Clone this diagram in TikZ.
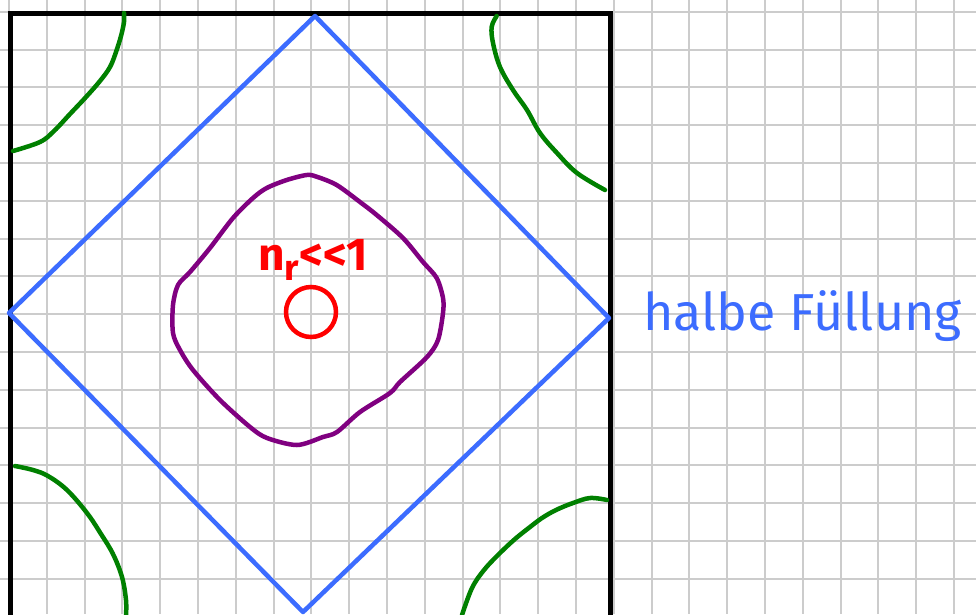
\documentclass[tikz,border=0pt]{standalone}
\usepackage{fontspec}
\newfontfamily\handfont{Fira Sans}
\definecolor{gridgray}{RGB}{204,204,204}
\definecolor{penblue}{RGB}{60,108,255}
\definecolor{pengreen}{RGB}{0,128,0}
\definecolor{penpurple}{RGB}{128,0,128}
\definecolor{penred}{RGB}{255,0,0}
\tikzset{
  gridline/.style={draw=gridgray, line width=2},
  frameline/.style={draw=black, line width=5, line cap=butt, line join=miter},
  bluepen/.style={draw=penblue, line width=4.5, line cap=round, line join=round},
  greenpen/.style={draw=pengreen, line width=4.5, line cap=round, line join=round},
  purplepen/.style={draw=penpurple, line width=4.5, line cap=round, line join=round},
  redpen/.style={draw=penred, line width=4.5},
}
\begin{document}
\begin{tikzpicture}[x=1pt,y=-1pt]
\useasboundingbox (0,0) rectangle (976,614);
\fill[white] (0,0) rectangle (976,614);
\begin{scope}
\clip (0,0) rectangle (976,614);
\foreach \i in {0,...,25} \draw[gridline] ({8.9+37.8*\i},0) -- ({8.9+37.8*\i},614);
\foreach \j in {0,...,15} \draw[gridline] (0,{11.7+37.8*\j}) -- (976,{11.7+37.8*\j});
% frame
\coordinate (fbl) at (10,620);
\coordinate (ftl) at (10,13.5);
\coordinate (ftr) at (610,13.5);
\coordinate (fbr) at (610,620);
\draw[frameline] (fbl) -- (ftl) -- (ftr) -- (fbr);
% green curves
\draw[greenpen] plot[smooth, tension=0.6] coordinates {(124,13) (124,22) (121,36) (116,52) (110,67) (100,81) (86,97) (70,114) (54,131) (40,142) (13,151)};
\draw[greenpen] plot[smooth, tension=0.6] coordinates {(496.7,16) (491.7,26.7) (493,43) (500,67) (513,90) (527,110) (540,133) (557,153) (577,173) (605,190)};
\draw[greenpen] plot[smooth, tension=0.6] coordinates {(15,466) (33,470) (48,476) (67,490) (87,513) (101,534) (113,554) (122,577) (126,600) (126,615)};
\draw[greenpen] plot[smooth, tension=0.6] coordinates {(607,500) (590,498) (573,503) (556,510) (542,518) (530,527) (515,539) (499,554) (484,570) (472,588) (462,615)};
% diamond
\coordinate (dt) at (315,16);
\coordinate (dr) at (609,318);
\coordinate (db) at (303,612);
\coordinate (dl) at (9,313);
\draw[bluepen] (dt) -- (dr) -- (db) -- (dl) -- cycle;
% purple curve
\draw[purplepen] plot[smooth cycle, tension=0.5] coordinates {(306.7,175) (286.7,180) (266.7,188) (253,198) (233,218) (210,248) (190,272) (178,285) (173,305) (173,333) (180,350) (193,370) (220,400) (250,427) (267,438) (297,445) (323,437) (337,432) (360,412) (390,393) (400,382) (427,357) (438,340) (443,313) (443,298) (436.7,278) (423,262) (403,238) (376.7,215) (360,202) (336.7,185) (316.7,176.7)};
% red circle
\coordinate (rc) at (311,312);
\draw[redpen] (rc) circle[radius=25];
\end{scope}
\node[text=penred, font=\handfont\bfseries\fontsize{46}{46}\selectfont, inner sep=0, anchor=center] (nr) at (313,260) {n\raisebox{-0.4ex}{\fontsize{36}{36}\selectfont r}<<1};
\node[text=penblue, font=\handfont\fontsize{52}{52}\selectfont, inner sep=0, anchor=base west] (hf) at (643,330) {halbe Füllung};
\end{tikzpicture}
\end{document}
